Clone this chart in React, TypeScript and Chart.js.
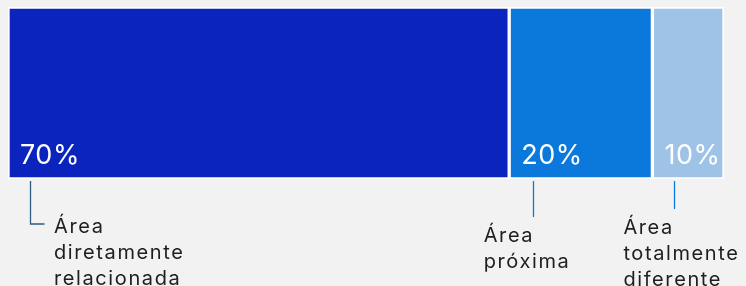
import React, { useEffect, useRef } from "react";
import { Chart, registerables } from "chart.js";

Chart.register(...registerables);

const categories = ["Área diretamente relacionada", "Área próxima", "Área totalmente diferente"];
const labelLines = [
  ["Área", "diretamente", "relacionada"],
  ["Área", "próxima"],
  ["Área", "totalmente", "diferente"],
];
const values = [70, 20, 10];
const valueLabels = ["70%", "20%", "10%"];
const barColors = ["#0c24be", "#0b79dc", "#9fc3e6"];
const lineColors = ["#2d5b82", "#0b79dc", "#0b79dc"];

// layout for annotation (offsets relative to bar start)
const annotLayout = [
  { lineDx: 21.5, lineEnd: 224, hook: 14, textDx: 46, firstBaseline: 233 },
  { lineDx: 23.5, lineEnd: 217, hook: 0, textDx: -25.5, firstBaseline: 242 },
  { lineDx: 22, lineEnd: 209, hook: 0, textDx: -29, firstBaseline: 234 },
];

const FONT = "Inter, 'Open Sans', sans-serif";

const annotPlugin = {
  id: "annot",
  afterDatasetsDraw(chart: any) {
    const ctx = chart.ctx;
    ctx.save();
    chart.data.datasets.forEach((_ds: any, i: number) => {
      const meta = chart.getDatasetMeta(i);
      const el = meta.data[0];
      if (!el) return;
      const p = el.getProps(["x", "y", "base", "height"], true);
      const left = Math.min(p.x, p.base);
      const bottom = p.y + p.height / 2;
      // value label
      ctx.fillStyle = "#ffffff";
      ctx.font = `400 27px ${FONT}`;
      ctx.textAlign = "left";
      ctx.textBaseline = "alphabetic";
      (ctx as any).letterSpacing = "0.5px";
      ctx.fillText(valueLabels[i], left + 12, bottom - 15);
      // leader line
      const L = annotLayout[i];
      const lx = Math.round(left + L.lineDx) + 0.5;
      ctx.strokeStyle = lineColors[i];
      ctx.lineWidth = 1.3;
      ctx.beginPath();
      ctx.moveTo(lx, bottom + 2);
      ctx.lineTo(lx, L.lineEnd);
      if (L.hook) ctx.lineTo(lx + L.hook, L.lineEnd);
      ctx.stroke();
      // category text
      ctx.fillStyle = "#1e1e1e";
      ctx.font = `400 20px ${FONT}`;
      (ctx as any).letterSpacing = "1.6px";
      labelLines[i].forEach((t, k) => {
        ctx.fillText(t, left + L.textDx, L.firstBaseline + k * 26);
      });
      (ctx as any).letterSpacing = "0px";
    });
    ctx.restore();
  },
};

export default function App() {
  const ref = useRef<HTMLCanvasElement>(null);
  useEffect(() => {
    if (!ref.current) return;
    const chart = new Chart(ref.current, {
      type: "bar",
      data: {
        labels: [""],
        datasets: categories.map((c, i) => ({
          label: c,
          data: [values[i]],
          backgroundColor: barColors[i],
          borderColor: "#ffffff",
          borderWidth: 2,
          borderSkipped: false,
          barPercentage: 1,
          categoryPercentage: 1,
        })),
      },
      options: {
        indexAxis: "y",
        responsive: false,
        animation: false,
        layout: { padding: { left: 8, right: 22, top: 7, bottom: 107 } },
        scales: {
          x: { stacked: true, min: 0, max: 100, display: false },
          y: { stacked: true, display: false },
        },
        plugins: { legend: { display: false }, tooltip: { enabled: false } },
      },
      plugins: [annotPlugin],
    } as any);
    return () => chart.destroy();
  }, []);
  return (
    <div style={{ position: "absolute", left: 0, top: 0, width: 746, height: 286, background: "#f2f2f2", overflow: "hidden" }}>
      <canvas ref={ref} width={746} height={286} style={{ display: "block" }} />
    </div>
  );
}
